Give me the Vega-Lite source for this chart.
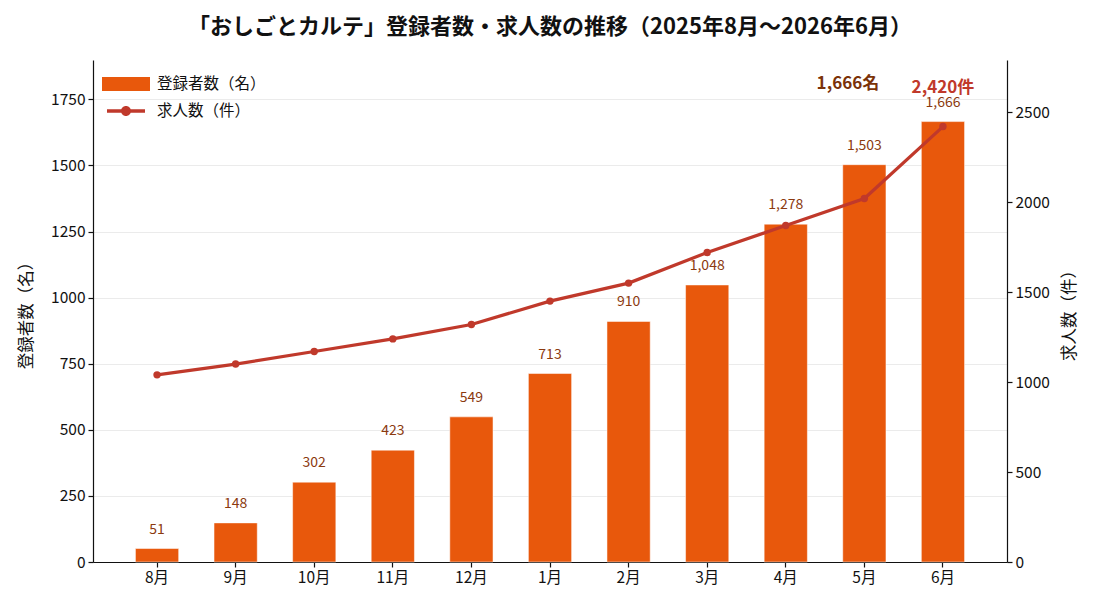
{
  "$schema": "https://vega.github.io/schema/vega-lite/v6.json",
  "width": 914,
  "height": 502,
  "autosize": {"type": "none"},
  "padding": {"left": 93, "top": 60, "right": 93, "bottom": 49},
  "background": "white",
  "config": {
    "font": "Noto Sans CJK JP",
    "view": {"stroke": null},
    "axis": {
      "labelFont": "Noto Sans CJK JP",
      "titleFont": "Noto Sans CJK JP",
      "labelFontSize": 15.5,
      "titleFontSize": 16.5,
      "titleFontWeight": "normal",
      "labelColor": "#111111",
      "titleColor": "#111111",
      "domainColor": "#111111",
      "tickColor": "#111111",
      "domainWidth": 1.2,
      "tickWidth": 1.2,
      "tickSize": 5,
      "labelPadding": 3
    }
  },
  "title": {
    "text": "「おしごとカルテ」登録者数・求人数の推移（2025年8月〜2026年6月）",
    "font": "Noto Sans CJK JP",
    "fontSize": 22,
    "fontWeight": "bold",
    "color": "#111111",
    "anchor": "middle",
    "offset": 21
  },
  "data": {
    "values": [
      {"month": "8月", "reg": 51, "jobs": 1040},
      {"month": "9月", "reg": 148, "jobs": 1100},
      {"month": "10月", "reg": 302, "jobs": 1170},
      {"month": "11月", "reg": 423, "jobs": 1240},
      {"month": "12月", "reg": 549, "jobs": 1320},
      {"month": "1月", "reg": 713, "jobs": 1450},
      {"month": "2月", "reg": 910, "jobs": 1550},
      {"month": "3月", "reg": 1048, "jobs": 1720},
      {"month": "4月", "reg": 1278, "jobs": 1870},
      {"month": "5月", "reg": 1503, "jobs": 2020},
      {"month": "6月", "reg": 1666, "jobs": 2420}
    ]
  },
  "encoding": {
    "x": {
      "field": "month",
      "type": "nominal",
      "sort": null,
      "scale": {"paddingInner": 0.45, "paddingOuter": 0.54},
      "axis": {"title": null, "labelAngle": 0}
    }
  },
  "layer": [
    {
      "encoding": {
        "y": {
          "field": "reg",
          "type": "quantitative",
          "scale": {"domain": [0, 1899], "nice": false},
          "axis": {
            "orient": "left",
            "title": "登録者数（名）",
            "titlePadding": 16,
            "format": "d",
            "values": [0, 250, 500, 750, 1000, 1250, 1500, 1750],
            "grid": true,
            "gridColor": "#ebebeb",
            "gridWidth": 1
          }
        }
      },
      "layer": [
        {
          "mark": {"type": "bar", "stroke": "white", "strokeWidth": 0.5},
          "encoding": {
            "color": {
              "datum": "登録者数（名）",
              "type": "nominal",
              "scale": {"domain": ["登録者数（名）", "求人数（件）"], "range": ["#E8580C", "#C0392B"]},
              "legend": {
                "title": null,
                "orient": "none",
                "legendX": 9,
                "legendY": 14,
                "padding": 0,
                "labelFont": "Noto Sans CJK JP",
                "labelFontSize": 15.5,
                "labelColor": "#111111",
                "symbolSize": 400,
                "symbolStrokeWidth": 0,
                "symbolType": {"expr": "datum.value === '登録者数（名）' ? 'M-1,-0.7H3.8V0.7H-1Z' : 'M-0.5,-0.17H3.3V0.17H-0.5Z M0.9,0A0.5,0.5 0 1,1 1.9,0A0.5,0.5 0 1,1 0.9,0Z'"},
                "labelOffset": 35,
                "rowPadding": 8
              }
            }
          }
        },
        {
          "mark": {"type": "text", "dy": -19, "baseline": "middle", "fontSize": 14, "color": "#8B3A0F", "font": "Noto Sans CJK JP"},
          "encoding": {
            "text": {"field": "reg", "type": "quantitative", "format": ","}
          }
        },
        {
          "transform": [{"filter": "datum.month === '6月'"}],
          "mark": {"type": "text", "dy": -38, "dx": -95, "baseline": "middle", "fontSize": 17, "fontWeight": "bold", "color": "#7B3208", "font": "Noto Sans CJK JP"},
          "encoding": {
            "text": {"value": "1,666名"}
          }
        }
      ]
    },
    {
      "encoding": {
        "y": {
          "field": "jobs",
          "type": "quantitative",
          "scale": {"domain": [0, 2790], "nice": false},
          "axis": {
            "orient": "right",
            "title": "求人数（件）",
            "titleAngle": 270,
            "titleBaseline": "top",
            "titlePadding": 12,
            "format": "d",
            "values": [0, 500, 1000, 1500, 2000, 2500],
            "grid": false
          }
        }
      },
      "layer": [
        {
          "mark": {"type": "line", "strokeWidth": 3.2, "color": "#C0392B"},
          "encoding": {}
        },
        {
          "mark": {"type": "point", "filled": true, "size": 55, "opacity": 1, "color": "#C0392B"},
          "encoding": {}
        },
        {
          "transform": [{"filter": "datum.month === '6月'"}],
          "mark": {"type": "text", "dy": -39, "baseline": "middle", "fontSize": 17, "fontWeight": "bold", "color": "#C0392B", "font": "Noto Sans CJK JP"},
          "encoding": {
            "text": {"value": "2,420件"}
          }
        }
      ]
    }
  ],
  "resolve": {"scale": {"y": "independent"}}
}
